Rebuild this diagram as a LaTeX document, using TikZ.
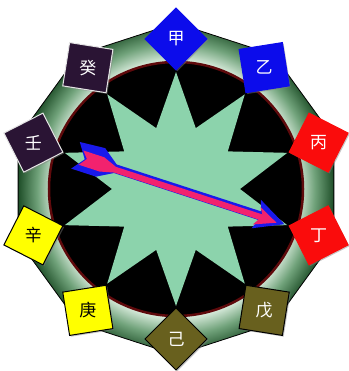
\documentclass[tikz,border=0pt]{standalone}
\usepackage{fontspec}
\newfontfamily\cjk{Noto Sans CJK SC}
\usetikzlibrary{shapes.geometric,shadows}
\definecolor{ringdark}{RGB}{30,78,40}
\definecolor{ringmid}{RGB}{112,162,122}
\definecolor{ringlight}{RGB}{226,242,229}
\definecolor{rimred}{RGB}{95,10,12}
\definecolor{mint}{RGB}{140,211,172}
\definecolor{stemblue}{RGB}{12,12,235}
\definecolor{stemred}{RGB}{250,12,12}
\definecolor{stemolive}{RGB}{104,96,30}
\definecolor{stemyellow}{RGB}{255,255,0}
\definecolor{stemplum}{RGB}{42,20,52}
\definecolor{arrowblue}{RGB}{25,25,235}
\definecolor{arrowpink}{RGB}{242,34,110}
\pgfdeclareradialshading{ringshade}{\pgfpoint{0bp}{0bp}}{color(0bp)=(ringlight); color(19bp)=(ringlight); color(22bp)=(ringmid); color(25bp)=(ringdark); color(50bp)=(ringdark)}

\begin{document}
\begin{tikzpicture}[x=1pt,y=1pt,
  stembox/.style={regular polygon,regular polygon sides=4,minimum size=62pt,
    inner sep=0pt,line width=1pt,font=\cjk\fontsize{17}{17}\selectfont,
    drop shadow={shadow xshift=1.3pt,shadow yshift=-1.3pt,opacity=.45}}]
  \useasboundingbox (-176,-182) rectangle (172,189);

  % outer ring and dial
  \draw[black,line width=.8pt,shading=ringshade]
    (90:166) -- (54:166) -- (18:166) -- (-18:166) -- (-54:166) -- (-90:166)
    -- (-126:166) -- (-162:166) -- (162:166) -- (126:166) -- cycle;
  \draw[rimred,line width=2.5pt,fill=black] (0,0) circle (127);
  \fill[mint] (90:117) \foreach \k in {0,...,9} { -- ({108+36*\k}:64) -- ({126+36*\k}:117) } -- cycle;

  \foreach \ang/\nm/\ch/\bg/\fg/\rim in {%
    90/jia/甲/stemblue/white/stemblue,
    54/yi/乙/stemblue/white/stemblue,
    18/bing/丙/stemred/white/stemred,
    -18/ding/丁/stemred/white/stemred,
    -54/wu/戊/stemolive/white/black,
    -90/ji/己/stemolive/white/black,
    -126/geng/庚/stemyellow/black/black,
    -162/xin/辛/stemyellow/black/black,
    162/ren/壬/stemplum/white/white!80!gray,
    126/gui/癸/stemplum/white/white!80!gray}
  {
    \pgfmathsetmacro\rot{\ang-45}
    \node[stembox,fill=\bg,draw=\rim,text=\fg,shape border rotate=\rot]
      (\nm) at (\ang:150) {\ch};
  }

  \coordinate (tail) at (162:104);
  \coordinate (tip) at (-18:114);
  \begin{scope}[rotate=-18]
    \fill[arrowblue] (-96,0) -- (-106,15) -- (-80,17) -- (-64,5) -- (88,5) -- (84,16)
      -- (114,0) -- (84,-14) -- (88,-4) -- (-64,-4) -- (-80,-13) -- (-106,-13) -- cycle;
    \fill[arrowpink] (-94,1) -- (-100,8) -- (-78,8) -- (-64,2.5) -- (90,2.5) -- (86,9)
      -- (106,-1) -- (84,-10) -- (88,-3.5) -- (-64,-3.5) -- (-78,-7) -- (-100,-7) -- cycle;
  \end{scope}
\end{tikzpicture}
\end{document}
